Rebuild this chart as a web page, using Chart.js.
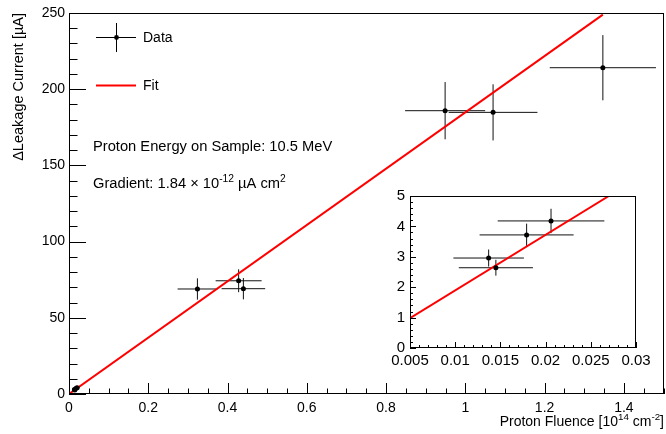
<!DOCTYPE html>
<html><head><meta charset="utf-8">
<script src="https://cdn.jsdelivr.net/npm/chart.js@4/dist/chart.umd.min.js"></script>
<style>
html,body{margin:0;padding:0;background:#fff;}
#wrap{position:relative;width:666px;height:434px;overflow:hidden;}
#main{position:absolute;left:0;top:0;width:666px;height:434px;}
#inset{position:absolute;left:380px;top:182px;width:280px;height:198px;}
</style></head><body>
<div id="wrap"><canvas id="main" width="666" height="434"></canvas><canvas id="inset" width="280" height="198"></canvas></div>
<script>
// ---- data (fluence in 1e14 cm^-2, current in µA) ----
const fluence     = [0.0137, 0.0145, 0.0179, 0.0206, 0.324, 0.428, 0.440, 0.949, 1.070, 1.347];
const fluenceErr  = [0.0039, 0.0041, 0.0052, 0.0059, 0.050, 0.058, 0.055, 0.101, 0.112, 0.134];
const current     = [2.96, 2.64, 3.72, 4.18, 68.9, 74.3, 69.1, 185.9, 184.8, 214.1];
const currentErr  = [0.28, 0.26, 0.37, 0.40, 7.0, 7.5, 7.0, 18.8, 18.4, 21.4];
// fit line end points
const fitX      = [0, 1.347];
const fitY      = [0.03, 248.9];
const fitInsetX = [0.005, 0.0270];
const fitInsetY = [0.98, 5.0];
// inset selection (low-fluence points)
const insetIdx = [0, 1, 2, 3];
// axis ranges / ticks
const mainXRange = [0, 1.5], mainYRange = [0, 250];
const mainXTicks = [0, 0.2, 0.4, 0.6, 0.8, 1, 1.2, 1.4];
const mainYTicks = [0, 50, 100, 150, 200, 250];
const insetXRange = [0.005, 0.03], insetYRange = [0, 5];
const insetXTicks = [0.005, 0.01, 0.015, 0.02, 0.025, 0.03];
const insetYTicks = [0, 1, 2, 3, 4, 5];
// text
const yTitle = 'ΔLeakage Current [µA]';
const xTitleParts = [{t:'Proton Fluence [10'},{t:'14',sup:true},{t:' cm'},{t:'-2',sup:true},{t:']'}];
const energyText = 'Proton Energy on Sample: 10.5 MeV';
const gradientParts = [{t:'Gradient: 1.84 \u00d7 10'},{t:'-12',sup:true},{t:' \u00b5A cm'},{t:'2',sup:true}];
const legendLabels = ['Data', 'Fit'];

const FONT = '"Liberation Sans", Arial, Helvetica, sans-serif';

function fmt(v){ return String(Number(v.toFixed(4))); }

function drawRich(ctx, parts, x, y, size, align){
  const widths = parts.map(p=>{ ctx.font = (p.sup? size*0.7 : size)+'px '+FONT; return ctx.measureText(p.t).width; });
  const total = widths.reduce((a,b)=>a+b,0);
  let cx = align==='right' ? x-total : x;
  ctx.textAlign='left'; ctx.textBaseline='alphabetic';
  parts.forEach((p,i)=>{
    ctx.font = (p.sup? size*0.7 : size)+'px '+FONT;
    ctx.fillText(p.t, cx, p.sup ? y-size*0.42 : y);
    cx += widths[i];
  });
}

function errorBarPlugin(idxList){
  return { id:'errbars', beforeDatasetsDraw(chart){
    const {ctx, scales:{x,y}, chartArea:a} = chart;
    ctx.save();
    ctx.beginPath(); ctx.rect(a.left, a.top, a.right-a.left, a.bottom-a.top); ctx.clip();
    ctx.strokeStyle='#111'; ctx.lineWidth=1;
    idxList.forEach(i=>{
      const px = x.getPixelForValue(fluence[i]), py = y.getPixelForValue(current[i]);
      ctx.beginPath();
      ctx.moveTo(x.getPixelForValue(fluence[i]-fluenceErr[i]), py);
      ctx.lineTo(x.getPixelForValue(fluence[i]+fluenceErr[i]), py);
      ctx.moveTo(px, y.getPixelForValue(current[i]-currentErr[i]));
      ctx.lineTo(px, y.getPixelForValue(current[i]+currentErr[i]));
      ctx.stroke();
    });
    ctx.restore();
  }};
}

function framePlugin(o){
  return { id:'frame', afterDraw(chart){
    const {ctx, chartArea:a, scales:{x,y}} = chart;
    ctx.save();
    ctx.strokeStyle='#000'; ctx.lineWidth=1;
    ctx.strokeRect(Math.round(a.left)+0.5, Math.round(a.top)+0.5, Math.round(a.right-a.left)-1, Math.round(a.bottom-a.top)-1);
    ctx.beginPath();
    const nx = Math.round((x.max-x.min)/o.xMinor);
    for(let k=0;k<=nx;k++){
      const v = x.min + k*o.xMinor;
      const major = o.xTicks.some(t=>Math.abs(t-v)<1e-9);
      const px = Math.round(x.getPixelForValue(v))+0.5;
      ctx.moveTo(px, a.bottom); ctx.lineTo(px, a.bottom-(major?o.xLen:o.xLen/2));
    }
    const ny = Math.round((y.max-y.min)/o.yMinor);
    for(let k=0;k<=ny;k++){
      const v = y.min + k*o.yMinor;
      const major = o.yTicks.some(t=>Math.abs(t-v)<1e-9);
      const py = Math.round(y.getPixelForValue(v))+0.5;
      ctx.moveTo(a.left, py); ctx.lineTo(a.left+(major?o.yLen:o.yLen/2), py);
    }
    ctx.stroke();
    ctx.restore();
  }};
}

const textPlugin = { id:'texts', afterDraw(chart){
  const {ctx} = chart;
  ctx.save();
  ctx.fillStyle='#000';
  // y title
  ctx.save();
  ctx.translate(19, 13); ctx.rotate(-Math.PI/2);
  ctx.font='14.5px '+FONT; ctx.textAlign='right'; ctx.textBaseline='middle';
  ctx.fillText(yTitle, 0, 0);
  ctx.restore();
  // x title
  drawRich(ctx, xTitleParts, 664, 426, 14, 'right');
  // legend
  ctx.strokeStyle='#000'; ctx.lineWidth=1;
  ctx.beginPath();
  ctx.moveTo(96, 37.5); ctx.lineTo(136, 37.5);
  ctx.moveTo(116.5, 23); ctx.lineTo(116.5, 52);
  ctx.stroke();
  ctx.beginPath(); ctx.arc(116.5, 37.5, 2.4, 0, Math.PI*2); ctx.fill();
  ctx.strokeStyle='#ff0000'; ctx.lineWidth=2;
  ctx.beginPath(); ctx.moveTo(96, 85.5); ctx.lineTo(136, 85.5); ctx.stroke();
  ctx.font='14px '+FONT; ctx.textAlign='left'; ctx.textBaseline='middle';
  ctx.fillText(legendLabels[0], 143, 38);
  ctx.fillText(legendLabels[1], 143, 86);
  // annotations
  ctx.font='14.7px '+FONT;
  ctx.textBaseline='alphabetic';
  ctx.fillText(energyText, 93, 151);
  drawRich(ctx, gradientParts, 93, 188, 14.7, 'left');
  ctx.restore();
}};

function pts(xs, ys){ return xs.map((v,i)=>({x:v, y:ys[i]})); }

const allIdx = fluence.map((_,i)=>i);

new Chart(document.getElementById('main'), {
  type:'scatter',
  data:{ datasets:[
    { label:legendLabels[0], data: pts(fluence, current), pointRadius:2.5, pointHoverRadius:2.5,
      backgroundColor:'#000', borderColor:'#000', borderWidth:0, showLine:false, order:1 },
    { label:legendLabels[1], data: pts(fitX, fitY), showLine:true, borderColor:'#ff0000', borderWidth:2,
      pointRadius:0, fill:false, order:2 }
  ]},
  options:{
    responsive:false, animation:false, devicePixelRatio:1,
    layout:{ padding:{ top:13, right:2, left:0, bottom:0 } },
    plugins:{ legend:{display:false}, tooltip:{enabled:false} },
    scales:{
      x:{ type:'linear', min:mainXRange[0], max:mainXRange[1],
          afterBuildTicks: s=>{ s.ticks = mainXTicks.map(v=>({value:v})); },
          ticks:{ callback: v=>fmt(v), color:'#000', font:{family:FONT, size:14}, padding:6, maxRotation:0, autoSkip:false },
          grid:{ display:false, drawTicks:false }, border:{ display:false },
          afterFit: s=>{ s.height = 40; } },
      y:{ type:'linear', min:mainYRange[0], max:mainYRange[1],
          afterBuildTicks: s=>{ s.ticks = mainYTicks.map(v=>({value:v})); },
          ticks:{ callback: v=>fmt(v), color:'#000', font:{family:FONT, size:14}, padding:4, autoSkip:false },
          grid:{ display:false, drawTicks:false }, border:{ display:false },
          afterFit: s=>{ s.width = 69; } }
    }
  },
  plugins:[ errorBarPlugin(allIdx), framePlugin({xMinor:0.05, yMinor:10, xTicks:mainXTicks, yTicks:mainYTicks, xLen:11, yLen:17}), textPlugin ]
});

new Chart(document.getElementById('inset'), {
  type:'scatter',
  data:{ datasets:[
    { label:legendLabels[0], data: insetIdx.map(i=>({x:fluence[i], y:current[i]})), pointRadius:2.5, pointHoverRadius:2.5,
      backgroundColor:'#000', borderColor:'#000', borderWidth:0, showLine:false, order:1 },
    { label:legendLabels[1], data: pts(fitInsetX, fitInsetY), showLine:true, borderColor:'#ff0000', borderWidth:2,
      pointRadius:0, fill:false, order:2 }
  ]},
  options:{
    responsive:false, animation:false, devicePixelRatio:1,
    layout:{ padding:{ top:10, right:24, left:0, bottom:0 } },
    plugins:{ legend:{display:false}, tooltip:{enabled:false} },
    scales:{
      x:{ type:'linear', min:insetXRange[0], max:insetXRange[1],
          afterBuildTicks: s=>{ s.ticks = insetXTicks.map(v=>({value:v})); },
          ticks:{ callback: v=>fmt(v), color:'#000', font:{family:FONT, size:15}, padding:4, maxRotation:0, autoSkip:false },
          grid:{ display:false, drawTicks:false }, border:{ display:false },
          afterFit: s=>{ s.height = 32; } },
      y:{ type:'linear', min:insetYRange[0], max:insetYRange[1],
          afterBuildTicks: s=>{ s.ticks = insetYTicks.map(v=>({value:v})); },
          ticks:{ callback: v=>fmt(v), color:'#000', font:{family:FONT, size:15}, padding:5, autoSkip:false },
          grid:{ display:false, drawTicks:false }, border:{ display:false },
          afterFit: s=>{ s.width = 30; } }
    }
  },
  plugins:[ errorBarPlugin(insetIdx), framePlugin({xMinor:0.001, yMinor:0.2, xTicks:insetXTicks, yTicks:insetYTicks, xLen:6, yLen:6}) ]
});
</script>
</body></html>
